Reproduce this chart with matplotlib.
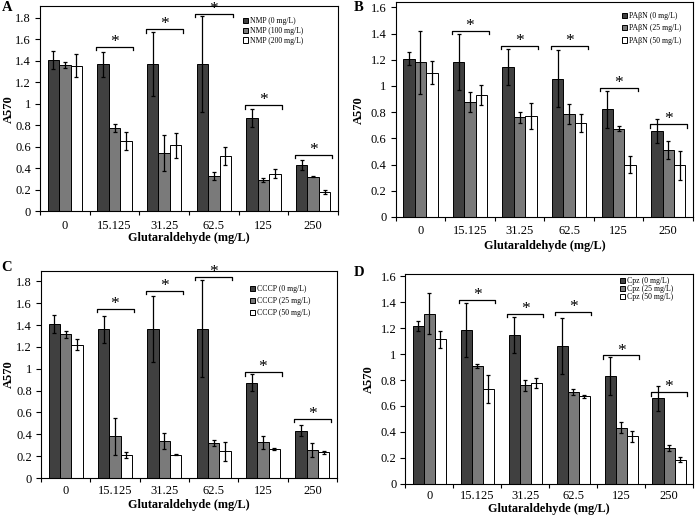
import numpy as np
import matplotlib as mpl
import matplotlib.pyplot as plt
from matplotlib.ticker import MultipleLocator, FixedLocator

mpl.rcParams['font.family'] = ['Liberation Serif', 'DejaVu Serif']

conc = ['0', '15.125', '31.25', '62.5', '125', '250']

# Panel A - NMP
nmp_labels = ['NMP (0 mg/L)', 'NMP (100 mg/L)', 'NMP (200 mg/L)']
nmp_0 = [1.405, 1.365, 1.368, 1.368, 0.870, 0.432]
nmp_0_err = [0.085, 0.120, 0.300, 0.447, 0.085, 0.047]
nmp_100 = [1.358, 0.777, 0.541, 0.330, 0.295, 0.323]
nmp_100_err = [0.025, 0.038, 0.165, 0.036, 0.019, 0.008]
nmp_200 = [1.352, 0.653, 0.615, 0.516, 0.348, 0.180]
nmp_200_err = [0.106, 0.087, 0.117, 0.086, 0.042, 0.019]
nmp_sig = [1.526, 1.691, 1.834, 0.985, 0.525]

# Panel B - PAβN
pabn_labels = ['PAβN (0 mg/L)', 'PAβN (25 mg/L)', 'PAβN (50 mg/L)']
pabn_0 = [1.208, 1.180, 1.145, 1.056, 0.822, 0.654]
pabn_0_err = [0.049, 0.214, 0.135, 0.218, 0.140, 0.091]
pabn_25 = [1.180, 0.878, 0.761, 0.786, 0.674, 0.509]
pabn_25_err = [0.242, 0.074, 0.040, 0.073, 0.020, 0.068]
pabn_50 = [1.101, 0.934, 0.771, 0.717, 0.400, 0.394]
pabn_50_err = [0.087, 0.077, 0.096, 0.066, 0.068, 0.109]
pabn_sig = [1.419, 1.305, 1.308, 0.987, 0.707]

# Panel C - CCCP
cccp_labels = ['CCCP (0 mg/L)', 'CCCP (25 mg/L)', 'CCCP (50 mg/L)']
cccp_0 = [1.409, 1.361, 1.364, 1.367, 0.872, 0.433]
cccp_0_err = [0.080, 0.125, 0.305, 0.445, 0.080, 0.049]
cccp_25 = [1.315, 0.381, 0.339, 0.320, 0.326, 0.256]
cccp_25_err = [0.031, 0.168, 0.077, 0.031, 0.061, 0.061]
cccp_50 = [1.220, 0.210, 0.214, 0.244, 0.265, 0.235]
cccp_50_err = [0.052, 0.024, 0.007, 0.089, 0.010, 0.015]
cccp_sig = [1.547, 1.714, 1.840, 0.967, 0.543]

# Panel D - Cpz
cpz_labels = ['Cpz (0 mg/L)', 'Cpz (25 mg/L)', 'Cpz (50 mg/L)']
cpz_0 = [1.217, 1.186, 1.147, 1.065, 0.831, 0.658]
cpz_0_err = [0.040, 0.209, 0.136, 0.216, 0.148, 0.094]
cpz_25 = [1.312, 0.905, 0.761, 0.705, 0.432, 0.275]
cpz_25_err = [0.159, 0.015, 0.042, 0.023, 0.041, 0.026]
cpz_50 = [1.114, 0.733, 0.774, 0.674, 0.365, 0.185]
cpz_50_err = [0.067, 0.107, 0.039, 0.010, 0.041, 0.019]
cpz_sig = [1.420, 1.312, 1.325, 0.990, 0.705]

colors = ['#404040', '#7a7a7a', 'white']
width = 0.23


def draw_panel(ax, series, errs, labels, sig, ytop, letter, opt):
    x = np.arange(len(conc))
    for k in range(3):
        ax.bar(x + (k - 1) * width, series[k], width, color=colors[k],
               edgecolor='black', linewidth=0.7, label=labels[k], zorder=2)
        ax.errorbar(x + (k - 1) * width, series[k], yerr=errs[k], fmt='none',
                    ecolor='black', elinewidth=0.9, capsize=1.6, capthick=0.9, zorder=3)

    # significance brackets over groups 1..5
    tick = ytop * 0.016
    for i, h in enumerate(sig):
        c = i + 1
        x0, x1 = c - 0.37, c + 0.38
        ax.plot([x0, x0, x1, x1], [h - tick, h, h, h - tick], color='black', lw=0.9, zorder=3)
        ax.annotate('*', xy=(c, h), xytext=(0, 3.5), textcoords='offset points',
                    ha='center', va='center', fontsize=12.5)

    ax.set_xlim(-0.5, 5.5)
    ax.set_ylim(0, ytop)
    ax.yaxis.set_major_locator(MultipleLocator(0.2))
    ax.yaxis.set_major_formatter(mpl.ticker.FuncFormatter(lambda v, p: f'{v:g}'))
    ax.set_xticks(x)
    ax.set_xticklabels(conc)
    ax.xaxis.set_minor_locator(FixedLocator(np.arange(-0.5, 6, 1)))
    ax.tick_params(axis='x', which='major', length=0, pad=opt['xp'], labelsize=9)
    ax.tick_params(axis='x', which='minor', length=3, width=0.8, direction='out')
    ax.tick_params(axis='y', length=3.5, width=0.8, pad=3, labelsize=9)
    for s in ax.spines.values():
        s.set_linewidth(0.8)
    ax.set_xlabel('Glutaraldehyde (mg/L)', fontsize=8.8, fontweight='bold')
    ax.set_ylabel('A570', fontsize=9, fontweight='bold')
    ax.xaxis.set_label_coords(0.5, opt['xl'])
    ax.yaxis.set_label_coords(opt['yl'], 0.5)

    ax.legend(loc='upper left', bbox_to_anchor=opt['pos'], frameon=False,
              fontsize=opt['fs'], labelspacing=opt['ls'], handlelength=0.7,
              handleheight=0.7, handletextpad=0.2, borderpad=0, borderaxespad=0)
    ax.text(opt['lx'], opt['ly'], letter, transform=ax.figure.transFigure,
            fontsize=10.5, fontweight='bold', ha='left', va='top')


fig = plt.figure(figsize=(6.96, 5.17), dpi=100)

axA = fig.add_axes([0.0575, 0.5913, 0.4281, 0.3971])
draw_panel(axA, [nmp_0, nmp_100, nmp_200], [nmp_0_err, nmp_100_err, nmp_200_err],
           nmp_labels, nmp_sig, 1.908, 'A',
           {'pos': (0.68, 0.945), 'fs': 5.5, 'ls': 0.22, 'xl': -0.1, 'yl': -0.085,
            'xp': 6.0, 'lx': 0.002, 'ly': 0.998})

axB = fig.add_axes([0.5685, 0.5803, 0.4272, 0.4149])
draw_panel(axB, [pabn_0, pabn_25, pabn_50], [pabn_0_err, pabn_25_err, pabn_50_err],
           pabn_labels, pabn_sig, 1.637, 'B',
           {'pos': (0.76, 0.955), 'fs': 5.6, 'ls': 0.55, 'xl': -0.107, 'yl': -0.103,
            'xp': 6.0, 'lx': 0.508, 'ly': 0.998})

axC = fig.add_axes([0.0589, 0.0754, 0.4253, 0.4010])
draw_panel(axC, [cccp_0, cccp_25, cccp_50], [cccp_0_err, cccp_25_err, cccp_50_err],
           cccp_labels, cccp_sig, 1.897, 'C',
           {'pos': (0.705, 0.93), 'fs': 5.6, 'ls': 0.5, 'xl': -0.1, 'yl': -0.088,
            'xp': 5.0, 'lx': 0.002, 'ly': 0.495})

axD = fig.add_axes([0.5823, 0.0644, 0.4134, 0.4056])
draw_panel(axD, [cpz_0, cpz_25, cpz_50], [cpz_0_err, cpz_25_err, cpz_50_err],
           cpz_labels, cpz_sig, 1.618, 'D',
           {'pos': (0.745, 0.985), 'fs': 5.6, 'ls': 0.0, 'xl': -0.092, 'yl': -0.105,
            'xp': 4.5, 'lx': 0.508, 'ly': 0.485})

fig.savefig('out.png', dpi=100)
